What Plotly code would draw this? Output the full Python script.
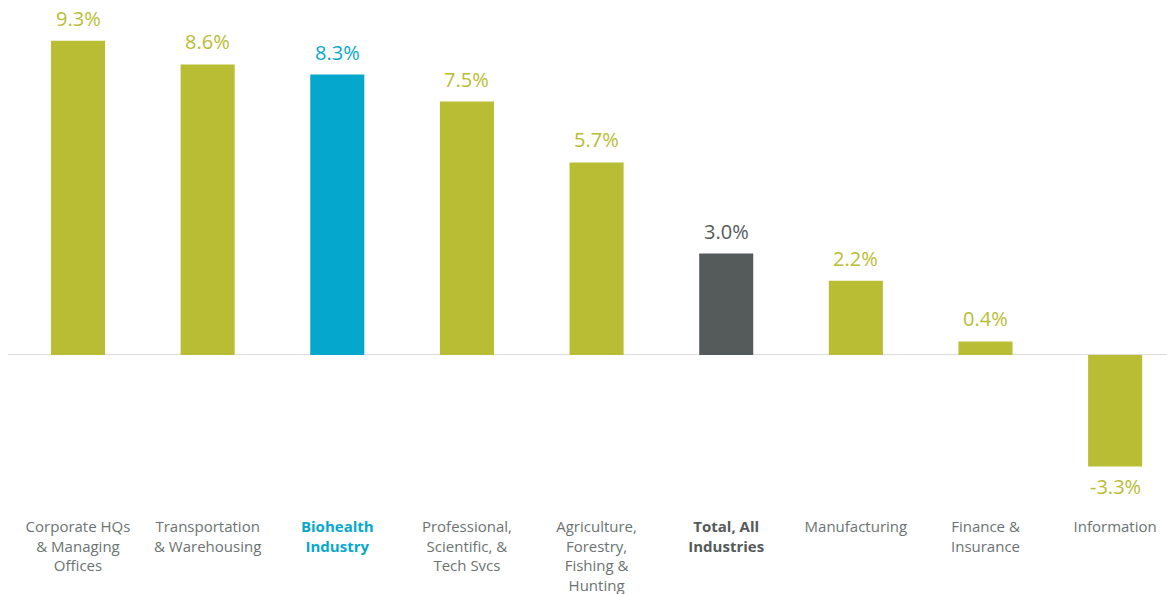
import plotly.graph_objects as go

categories = ["Corporate HQs<br>& Managing<br>Offices", "Transportation<br>& Warehousing",
              "Biohealth<br>Industry", "Professional,<br>Scientific, &<br>Tech Svcs",
              "Agriculture,<br>Forestry,<br>Fishing &<br>Hunting", "Total, All<br>Industries",
              "Manufacturing", "Finance &<br>Insurance", "Information"]
values = [9.3, 8.6, 8.3, 7.5, 5.7, 3.0, 2.2, 0.4, -3.3]
kinds = ["other", "other", "bio", "other", "other", "total", "other", "other", "other"]

GREEN = "#B8BD33"
BLUE = "#05A8CC"
DARK = "#555A5A"
LABEL = "#6B7372"
FONT = "Open Sans, Lato, sans-serif"

bar_colors = [BLUE if k == "bio" else DARK if k == "total" else GREEN for k in kinds]
text_colors = bar_colors

ticktext = []
for c, k in zip(categories, kinds):
    if k == "bio":
        ticktext.append(f'<span style="color:{BLUE}"><b>{c.replace("<br>", "</b><br><b>")}</b></span>')
    elif k == "total":
        ticktext.append(f'<span style="color:{DARK}"><b>{c.replace("<br>", "</b><br><b>")}</b></span>')
    else:
        ticktext.append(c)

x_idx = list(range(len(categories)))

fig = go.Figure()
fig.add_trace(go.Bar(x=x_idx, y=values, marker=dict(color=bar_colors, line=dict(width=0)),
                     width=0.417, hoverinfo="skip"))

for i, (v, col) in enumerate(zip(values, text_colors)):
    fig.add_annotation(x=i, y=v, text=f"{v:.1f}%", showarrow=False,
                       yanchor="bottom" if v >= 0 else "top",
                       yshift=7 if v >= 0 else -5,
                       font=dict(size=20, color=col, family=FONT))

fig.update_layout(
    width=1167, height=594,
    margin=dict(l=8, r=0, t=7, b=87),
    plot_bgcolor="white", paper_bgcolor="white",
    showlegend=False,
    font=dict(family=FONT, size=15, color=LABEL),
    xaxis=dict(range=[-0.54, 8.40], tickmode="array", tickvals=x_idx, ticktext=ticktext,
               showgrid=False, showline=False, ticks="", zeroline=False,
               ticklabelstandoff=9, automargin=False,
               tickfont=dict(size=15, color=LABEL, family=FONT)),
    yaxis=dict(range=[-4.5, 10.3], showgrid=False, showticklabels=False, ticks="",
               zeroline=True, zerolinecolor="#DDDDDD", zerolinewidth=1, showline=False,
               automargin=False),
)

fig.write_html("out.html")
